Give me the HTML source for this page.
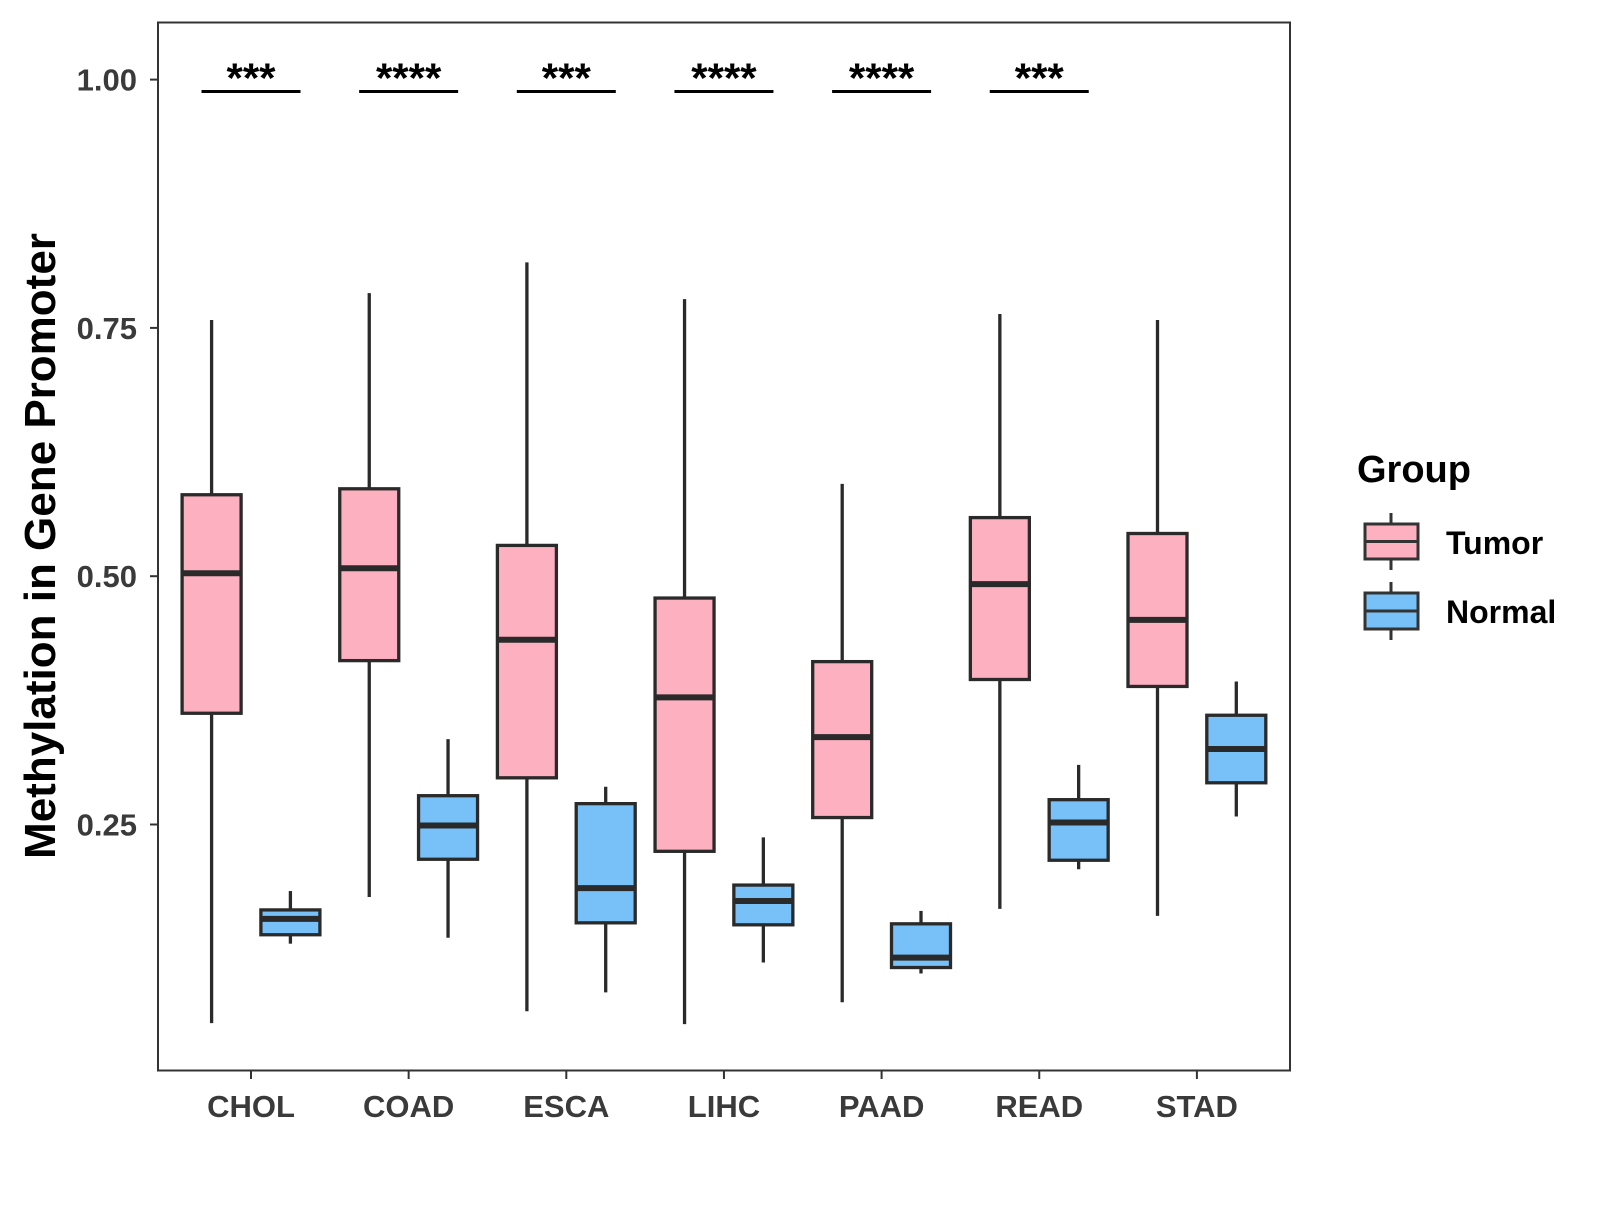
<!DOCTYPE html>
<html><head><meta charset="utf-8"><style>
body{margin:0;background:#fff}
svg text{font-family:"Liberation Sans",Arial,sans-serif;font-weight:bold}
</style></head><body>
<svg id="chart" width="1600" height="1200" viewBox="0 0 1600 1200" xmlns="http://www.w3.org/2000/svg">
<rect x="0" y="0" width="1600" height="1200" fill="#fff"/>
<rect x="158" y="22.5" width="1132" height="1048" fill="none" stroke="#333" stroke-width="2"/>
<g id="axes"></g>
<g id="marks"></g>
<text transform="translate(55,546) rotate(-90)" text-anchor="middle" font-size="44" fill="#000">Methylation in Gene Promoter</text>
<text x="1357" y="482" font-size="38" fill="#000">Group</text>
<g>
<line x1="1391" y1="513" x2="1391" y2="570" stroke="#333" stroke-width="3"/>
<rect x="1365" y="524" width="53" height="35" fill="#FDB0C0" stroke="#333" stroke-width="3"/>
<line x1="1365" y1="541.5" x2="1418" y2="541.5" stroke="#333" stroke-width="3"/>
<text x="1446" y="554" font-size="32" fill="#000">Tumor</text>
</g>
<g>
<line x1="1391" y1="582" x2="1391" y2="640" stroke="#333" stroke-width="3"/>
<rect x="1365" y="593" width="53" height="36" fill="#77C1F8" stroke="#333" stroke-width="3"/>
<line x1="1365" y1="611" x2="1418" y2="611" stroke="#333" stroke-width="3"/>
<text x="1446" y="623" font-size="32" fill="#000">Normal</text>
</g>
</svg>
<script>
const categories=["CHOL","COAD","ESCA","LIHC","PAAD","READ","STAD"];
// [low whisker, Q1, median, Q3, high whisker]
const tumorStats=[[0.050,0.362,0.503,0.582,0.758],[0.177,0.415,0.508,0.588,0.785],[0.062,0.297,0.436,0.531,0.816],[0.049,0.223,0.378,0.478,0.779],[0.071,0.257,0.338,0.414,0.593],[0.165,0.396,0.492,0.559,0.764],[0.158,0.389,0.456,0.543,0.758]];
const normalStats=[[0.130,0.139,0.155,0.164,0.183],[0.136,0.215,0.249,0.279,0.336],[0.081,0.151,0.186,0.271,0.288],[0.111,0.149,0.173,0.189,0.237],[0.100,0.106,0.116,0.150,0.163],[0.205,0.214,0.252,0.275,0.310],[0.258,0.292,0.326,0.360,0.394]];
const sigLabels=["***","****","***","****","****","***"];
const sigLevel=0.988;
const yTicks=[0.25,0.5,0.75,1.0];
const yTickLabels=["0.25","0.50","0.75","1.00"];

const NS="http://www.w3.org/2000/svg";
function y(v){return 824.5-(v-0.25)*993.2;}
function x(i){return 251+i*157.65;}
function mk(tag,attrs,parent){const e=document.createElementNS(NS,tag);for(const k in attrs)e.setAttribute(k,attrs[k]);parent.appendChild(e);return e;}
const axes=document.getElementById('axes'),marks=document.getElementById('marks');
yTicks.forEach((t,i)=>{
  const l=mk('line',{x1:150,x2:158,y1:y(t),y2:y(t),stroke:'#333','stroke-width':2},axes);
  
  
  const tx=mk('text',{x:137,y:y(t)+11,'text-anchor':'end','font-size':31,fill:'#3a3a3a'},axes);
  tx.textContent=yTickLabels[i];
  
  
});
categories.forEach((c,i)=>{
  const l=mk('line',{x1:x(i),x2:x(i),y1:1071,y2:1079,stroke:'#333','stroke-width':2},axes);
  
  
  const tx=mk('text',{x:x(i),y:1117,'text-anchor':'middle','font-size':31,fill:'#3a3a3a'},axes);
  tx.textContent=c;
  
  
});
function box(cx,s,fill,name){
  const g=mk('g',{},marks);
  
  
  const w=59;
  mk('line',{x1:cx,x2:cx,y1:y(s[0]),y2:y(s[4]),stroke:'#2a2a2a','stroke-width':3.3},g);
  mk('rect',{x:cx-w/2,y:y(s[3]),width:w,height:y(s[1])-y(s[3]),fill:fill,stroke:'#2a2a2a','stroke-width':3.3},g);
  mk('line',{x1:cx-w/2,x2:cx+w/2,y1:y(s[2]),y2:y(s[2]),stroke:'#2a2a2a','stroke-width':6},g);
}
categories.forEach((c,i)=>{
  box(x(i)-39.4,tumorStats[i],'#FDB0C0','box-tumor-'+c.toLowerCase());
  box(x(i)+39.4,normalStats[i],'#77C1F8','box-normal-'+c.toLowerCase());
});
sigLabels.forEach((s,i)=>{
  const l=mk('line',{x1:x(i)-49.5,x2:x(i)+49.5,y1:y(sigLevel),y2:y(sigLevel),stroke:'#000','stroke-width':3},marks);
  
  
  const t=mk('text',{x:x(i),y:y(sigLevel)+1,'text-anchor':'middle','font-size':42,fill:'#000'},marks);
  t.textContent=s;
  
  
});
</script>
</body></html>
